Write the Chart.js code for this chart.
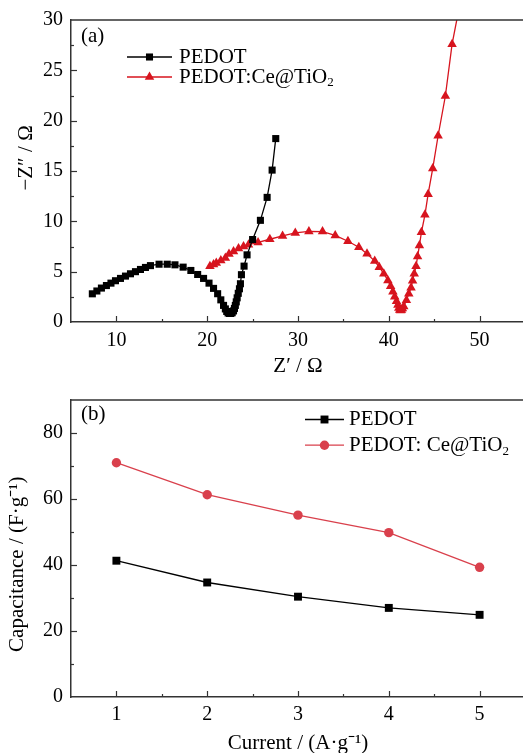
<!DOCTYPE html>
<html lang="en">
<head>
<meta charset="UTF-8">
<title>PEDOT impedance and capacitance</title>
<script src="https://cdn.jsdelivr.net/npm/chart.js"></script>
<style>
  html, body { margin: 0; padding: 0; background: #fff; overflow: hidden; }
  #wrap { position: relative; width: 523px; height: 753px; overflow: hidden; }
  canvas { position: absolute; left: 0; }
  #chartA { top: 0; }
  #chartB { top: 380px; }
</style>
</head>
<body>
<div id="wrap">
  <canvas id="chartA" width="535" height="380"></canvas>
  <canvas id="chartB" width="535" height="376"></canvas>
</div>
<script>
// (a) Nyquist plot, Z' and -Z'' in ohm
const pedotZre = [7.35, 7.85, 8.35, 8.9, 9.4, 9.9, 10.45, 11.0, 11.55, 12.1, 12.65, 13.2, 13.75, 14.7, 15.6,
  16.45, 17.35, 18.2, 18.95, 19.6, 20.2, 20.7, 21.15, 21.5, 21.8, 22.0, 22.15, 22.3, 22.45, 22.6,
  22.75, 22.9, 23.0, 23.1, 23.2, 23.3, 23.42, 23.55, 23.66, 23.77, 24.06, 24.39, 25.0, 25.86, 26.6, 27.15, 27.55];
const pedotZim = [2.8, 3.08, 3.37, 3.62, 3.86, 4.1, 4.33, 4.56, 4.79, 5.0, 5.22, 5.42, 5.6, 5.74, 5.74,
  5.68, 5.45, 5.12, 4.72, 4.33, 3.86, 3.34, 2.81, 2.2, 1.65, 1.3, 1.05, 0.9, 0.85, 0.85,
  0.92, 1.1, 1.35, 1.65, 2.0, 2.4, 2.85, 3.3, 3.8, 4.7, 5.55, 6.67, 8.19, 10.1, 12.38, 15.09, 18.22];
const ceZre = [20.3, 20.7, 21.0, 21.5, 22.0, 22.4, 22.9, 23.45, 24.0, 24.55, 25.6, 26.9, 28.3, 29.7, 31.2,
  32.7, 34.1, 35.5, 36.7, 37.6, 38.45, 38.95, 39.45, 39.9, 40.2, 40.45, 40.65, 40.85, 41.0, 41.1,
  41.2, 41.3, 41.4, 41.5, 41.65, 41.94, 42.2, 42.45, 42.62, 42.8, 43.0, 43.17, 43.37, 43.59, 43.98,
  44.33, 44.84, 45.43, 46.23, 46.97, 48.0];
const ceZim = [5.55, 5.7, 5.85, 6.1, 6.37, 6.75, 7.0, 7.3, 7.5, 7.68, 7.9, 8.22, 8.55, 8.85, 9.0,
  8.98, 8.6, 8.02, 7.43, 6.77, 6.05, 5.45, 4.8, 4.13, 3.55, 3.0, 2.5, 2.05, 1.7, 1.4,
  1.2, 1.15, 1.2, 1.35, 1.55, 2.15, 2.81, 3.4, 4.1, 4.79, 5.55, 6.5, 7.59, 8.91, 10.65,
  12.7, 15.25, 18.5, 22.45, 27.6, 32.4];
const nyqXTicks = [10, 20, 30, 40, 50];
const nyqYTicks = [0, 5, 10, 15, 20, 25, 30];

// (b) specific capacitance vs current density
const currents = [1, 2, 3, 4, 5];
const capPedot = [41.3, 34.7, 30.4, 27.0, 24.9];
const capCe = [71.0, 61.3, 55.1, 49.8, 39.3];
const capYTicks = [0, 20, 40, 60, 80];

const serif = "'Liberation Serif', 'Times New Roman', serif";
const axisColor = '#333';
const redA = '#d7141e';
const redB = '#d9404c';

function toPoints(xs, ys) {
  return xs.map((x, i) => ({ x: x, y: ys[i] }));
}

function drawMarker(ctx, style, r, x, y) {
  ctx.beginPath();
  if (style === 'rect') {
    const h = r * Math.SQRT1_2;
    ctx.rect(x - h, y - h, 2 * h, 2 * h);
  } else if (style === 'triangle') {
    ctx.moveTo(x, y - r);
    ctx.lineTo(x + r * 0.866, y + r / 2);
    ctx.lineTo(x - r * 0.866, y + r / 2);
    ctx.closePath();
  } else {
    ctx.arc(x, y, r, 0, Math.PI * 2);
  }
  ctx.fill();
}

// box on top/right + inward major and minor ticks
const frameTicks = {
  id: 'frameTicks',
  afterDraw(chart) {
    const { ctx, chartArea: a } = chart;
    ctx.save();
    ctx.strokeStyle = axisColor;
    ctx.lineWidth = 1.5;
    ctx.beginPath();
    ctx.moveTo(a.left, a.top);
    ctx.lineTo(a.right, a.top);
    ctx.lineTo(a.right, a.bottom);
    ctx.stroke();
    ctx.lineWidth = 1.2;
    ['x', 'y'].forEach(id => {
      const s = chart.scales[id];
      const vals = s.ticks.map(t => t.value);
      const step = vals[1] - vals[0];
      const minors = [vals[0] - step / 2];
      vals.forEach(v => minors.push(v + step / 2));
      const tick = (v, len) => {
        if (v <= s.min || v >= s.max) return;
        const p = Math.round(s.getPixelForValue(v)) + 0.5;
        ctx.beginPath();
        if (id === 'x') {
          ctx.moveTo(p, a.bottom);
          ctx.lineTo(p, a.bottom - len);
        } else {
          ctx.moveTo(a.left, p);
          ctx.lineTo(a.left + len, p);
        }
        ctx.stroke();
      };
      vals.forEach(v => tick(v, 6));
      minors.forEach(v => tick(v, 3));
    });
    ctx.restore();
  }
};

// legend and panel letter drawn inside the plot
const legendBox = {
  id: 'legendBox',
  afterDraw(chart, args, opts) {
    const ctx = chart.ctx;
    ctx.save();
    ctx.textBaseline = 'middle';
    ctx.fillStyle = '#000';
    ctx.font = opts.fontSize + 'px ' + serif;
    ctx.fillText(opts.panel, opts.panelX, opts.panelY);
    chart.data.datasets.forEach((ds, i) => {
      const y = opts.y + i * opts.rowGap;
      ctx.strokeStyle = ds.borderColor;
      ctx.lineWidth = ds.borderWidth;
      ctx.beginPath();
      ctx.moveTo(opts.x, y);
      ctx.lineTo(opts.x + opts.lineLen, y);
      ctx.stroke();
      ctx.fillStyle = ds.pointBackgroundColor;
      drawMarker(ctx, ds.pointStyle, ds.pointRadius, opts.x + opts.lineLen / 2, y);
      ctx.fillStyle = '#000';
      ctx.font = opts.fontSize + 'px ' + serif;
      let tx = opts.x + opts.lineLen + opts.textGap;
      const parts = ds.label.split('₂');
      ctx.fillText(parts[0], tx, y);
      if (parts.length > 1) {
        tx += ctx.measureText(parts[0]).width;
        ctx.font = Math.round(opts.fontSize * 0.62) + 'px ' + serif;
        ctx.fillText('2', tx, y + opts.fontSize * 0.28);
      }
    });
    ctx.restore();
  }
};

function axisBase(pad) {
  return {
    grid: { drawOnChartArea: false, drawTicks: false },
    border: { color: axisColor, width: 1.5 },
    ticks: { color: '#000', font: { family: serif, size: 20 }, maxRotation: 0, padding: pad }
  };
}

function axisTitle(text, padTop, padBottom) {
  return { display: true, text: text, color: '#000', font: { family: serif, size: 21 }, padding: { top: padTop, bottom: padBottom } };
}

new Chart(document.getElementById('chartA'), {
  type: 'scatter',
  data: {
    datasets: [
      {
        label: 'PEDOT',
        data: toPoints(pedotZre, pedotZim),
        showLine: true,
        borderColor: '#000',
        borderWidth: 1.3,
        pointStyle: 'rect',
        pointRadius: 5,
        pointBackgroundColor: '#000',
        pointBorderColor: '#000',
        pointBorderWidth: 0
      },
      {
        label: 'PEDOT:Ce@TiO₂',
        data: toPoints(ceZre, ceZim),
        showLine: true,
        borderColor: redA,
        borderWidth: 1.3,
        pointStyle: 'triangle',
        pointRadius: 5.5,
        pointBackgroundColor: redA,
        pointBorderColor: redA,
        pointBorderWidth: 0
      }
    ]
  },
  options: {
    responsive: false,
    animation: false,
    devicePixelRatio: 1,
    layout: { padding: { top: 18, right: 10, bottom: 0, left: 0 } },
    plugins: {
      legend: { display: false },
      tooltip: { enabled: false },
      legendBox: { panel: '(a)', panelX: 81, panelY: 36, x: 127, y: 57, rowGap: 20, lineLen: 45, textGap: 7, fontSize: 21 }
    },
    scales: {
      x: Object.assign(axisBase(7), {
        type: 'linear', min: 5, max: 55,
        afterBuildTicks: s => { s.ticks = nyqXTicks.map(v => ({ value: v })); },
        afterFit: s => { s.height = 58; },
        title: axisTitle('Z′ / Ω', 0, 1)
      }),
      y: Object.assign(axisBase(8), {
        type: 'linear', min: 0, max: 30,
        afterBuildTicks: s => { s.ticks = nyqYTicks.map(v => ({ value: v })); },
        afterFit: s => { s.width = 71; },
        title: axisTitle('     −Z″ / Ω', 14, 0)
      })
    }
  },
  plugins: [frameTicks, legendBox]
});

new Chart(document.getElementById('chartB'), {
  type: 'line',
  data: {
    datasets: [
      {
        label: 'PEDOT',
        data: toPoints(currents, capPedot),
        borderColor: '#000',
        borderWidth: 1.3,
        pointStyle: 'rect',
        pointRadius: 5.6,
        pointBackgroundColor: '#000',
        pointBorderColor: '#000',
        pointBorderWidth: 0
      },
      {
        label: 'PEDOT: Ce@TiO₂',
        data: toPoints(currents, capCe),
        borderColor: redB,
        borderWidth: 1.3,
        pointStyle: 'circle',
        pointRadius: 4.7,
        pointBackgroundColor: redB,
        pointBorderColor: redB,
        pointBorderWidth: 0
      }
    ]
  },
  options: {
    responsive: false,
    animation: false,
    devicePixelRatio: 1,
    layout: { padding: { top: 14, right: 10, bottom: 0, left: 0 } },
    plugins: {
      legend: { display: false },
      tooltip: { enabled: false },
      legendBox: { panel: '(b)', panelX: 81, panelY: 34, x: 305, y: 39.5, rowGap: 25.7, lineLen: 39, textGap: 5, fontSize: 21 }
    },
    scales: {
      x: Object.assign(axisBase(6), {
        type: 'linear', min: 0.5, max: 5.5,
        afterBuildTicks: s => { s.ticks = currents.map(v => ({ value: v })); },
        afterFit: s => { s.height = 59; },
        title: axisTitle('Current / (A·g⁻¹)', 0, 0)
      }),
      y: Object.assign(axisBase(8), {
        type: 'linear', min: 0, max: 90,
        afterBuildTicks: s => { s.ticks = capYTicks.map(v => ({ value: v })); },
        afterFit: s => { s.width = 71; },
        title: axisTitle('Capacitance / (F·g⁻¹)      ', 5, 0)
      })
    }
  },
  plugins: [frameTicks, legendBox]
});
</script>
</body>
</html>
